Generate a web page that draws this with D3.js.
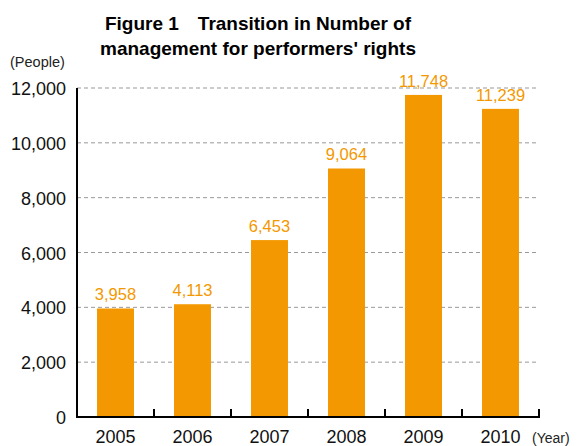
<!DOCTYPE html>
<html>
<head>
<meta charset="utf-8">
<script src="https://cdn.jsdelivr.net/npm/d3@7"></script>
<style>
  body { margin: 0; background: #fff; }
  text { font-family: "Liberation Sans", Arial, sans-serif; }
</style>
</head>
<body>
<script>
const years = ['2005', '2006', '2007', '2008', '2009', '2010']
const people = [3958, 4113, 6453, 9064, 11748, 11239]
const yTicks = [0, 2000, 4000, 6000, 8000, 10000, 12000]

const WIDTH = 578
const HEIGHT = 446
const LEFT = 77, RIGHT = 539, TOP = 88, BOTTOM = 417
const ORANGE = '#f39800'

const svg = d3.select('body').append('svg')
  .attr('width', WIDTH).attr('height', HEIGHT)

const x = d3.scaleBand().domain(years).range([LEFT, RIGHT]).paddingInner(0.52).paddingOuter(0.26)
const y = d3.scaleLinear().domain([0, 12000]).range([BOTTOM, TOP])

// title
svg.append('text').attr('x', 258).attr('y', 30).attr('text-anchor', 'middle')
  .attr('font-size', 19).attr('font-weight', 'bold')
  .text('Figure 1\u2003Transition in Number of')
svg.append('text').attr('x', 258).attr('y', 55).attr('text-anchor', 'middle')
  .attr('font-size', 19).attr('font-weight', 'bold')
  .text("management for performers' rights")

svg.append('text').attr('x', 10).attr('y', 67).attr('font-size', 14.5).attr('fill', '#222')
  .text('(People)')

// dashed grid
svg.selectAll('line.grid').data(yTicks.slice(1)).enter().append('line')
  .attr('x1', LEFT).attr('x2', RIGHT)
  .attr('y1', d => y(d)).attr('y2', d => y(d))
  .attr('stroke', '#999').attr('stroke-width', 1).attr('stroke-dasharray', '4,3')

// y tick labels
svg.selectAll('text.yl').data(yTicks).enter().append('text')
  .attr('x', 66).attr('y', d => y(d) + 7)
  .attr('text-anchor', 'end').attr('font-size', 18).attr('fill', '#111')
  .text(d => d3.format(',')(d))

// bars
svg.selectAll('rect').data(people).enter().append('rect')
  .attr('x', (d, i) => x(years[i]))
  .attr('width', x.bandwidth())
  .attr('y', d => y(d))
  .attr('height', d => BOTTOM - y(d))
  .attr('fill', ORANGE)

svg.selectAll('text.val').data(people).enter().append('text')
  .attr('x', (d, i) => x(years[i]) + x.bandwidth() / 2)
  .attr('y', d => y(d) - 8)
  .attr('text-anchor', 'middle').attr('font-size', 16.5).attr('fill', ORANGE)
  .text(d => d3.format(',')(d))

// axes
svg.append('line').attr('x1', LEFT).attr('x2', LEFT).attr('y1', TOP).attr('y2', BOTTOM + 1)
  .attr('stroke', '#000').attr('stroke-width', 2)
svg.append('line').attr('x1', LEFT - 1).attr('x2', RIGHT + 1).attr('y1', BOTTOM).attr('y2', BOTTOM)
  .attr('stroke', '#000').attr('stroke-width', 2)

const step = (RIGHT - LEFT) / years.length
svg.selectAll('line.tk').data(years).enter().append('line')
  .attr('x1', (d, i) => LEFT + step * (i + 1)).attr('x2', (d, i) => LEFT + step * (i + 1))
  .attr('y1', BOTTOM).attr('y2', BOTTOM - 8)
  .attr('stroke', '#000').attr('stroke-width', 2)

svg.selectAll('text.xl').data(years).enter().append('text')
  .attr('x', d => x(d) + x.bandwidth() / 2).attr('y', 443)
  .attr('text-anchor', 'middle').attr('font-size', 18).attr('fill', '#111')
  .text(d => d)

svg.append('text').attr('x', 532).attr('y', 443).attr('font-size', 14).attr('fill', '#222')
  .text('(Year)')
</script>
</body>
</html>
